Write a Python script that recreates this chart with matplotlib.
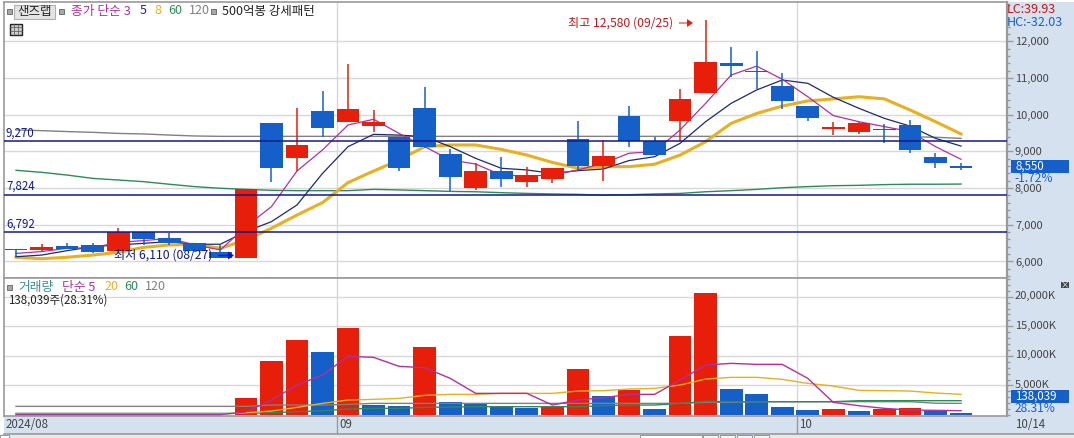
import matplotlib
matplotlib.use("Agg")
import matplotlib.pyplot as plt
from matplotlib.patches import Rectangle, FancyArrow
from matplotlib.ticker import MultipleLocator, FuncFormatter
from matplotlib.transforms import ScaledTranslation
import numpy as np

plt.rcParams['font.family'] = ['Noto Sans CJK KR', 'DejaVu Sans']

opens  = [6340,6320,6422,6450,6295,6795,6640,6495,6250,6105,9774,8820,10101,9801,9701,9392,10183,8929,8012,8466,8175,8257,9338,8593,9965,9275,9838,10601,11409,11191,10773,10237,9610,9538,9620,9720,8848,8603]
highs  = [6340,6470,6513,6513,6913,6795,6786,6495,6450,7966,9774,10183,10646,11382,10128,9392,10755,9066,8675,8848,8566,8548,9829,9311,10237,9393,10700,12580,11845,11736,11137,10237,9801,9801,9747,9856,8956,8675]
lows   = [6115,6295,6332,6223,6295,6450,6450,6268,6105,6105,8166,8466,9401,9801,9538,8466,9084,7912,7948,8039,8039,8148,8493,8194,9129,8911,9275,10601,11036,10700,10164,9838,9447,9474,9238,8956,8557,8493]
closes = [6305,6395,6350,6268,6795,6613,6504,6295,6105,7966,8557,9174,9647,10155,9801,8557,9129,8312,8466,8257,8348,8548,8611,8875,9275,8911,10428,11436,11336,11154,10382,9919,9665,9774,9593,9047,8693,8550]
up_flags = [0,1,0,0,1,0,0,0,0,1,0,1,0,1,1,0,0,0,1,0,1,1,0,1,0,0,1,1,0,0,0,0,1,1,0,0,0,0]

ma3 = [6220,6270,6360,6375,6520,6570,6630,6450,6315,6950,7495,8465,9040,9720,9875,9490,9130,8765,8655,8355,8330,8355,8495,8675,8950,8995,9585,10310,11080,11325,10965,10490,9975,9810,9675,9540,9130,8785]
ma5 = [6130,6175,6295,6405,6450,6495,6540,6470,6470,6815,7085,7540,8400,9130,9465,9445,9400,9130,8810,8540,8495,8400,8475,8520,8750,8855,9220,9810,10310,10675,10945,10855,10475,10175,9900,9690,9355,9145]
ma8 = [6115,6075,6115,6175,6250,6385,6450,6470,6360,6585,6905,7265,7605,8150,8465,8765,9130,9175,9175,9055,8900,8700,8540,8585,8585,8650,8900,9265,9765,10035,10235,10375,10430,10490,10430,10130,9810,9475]
ma60 = [8485,8430,8355,8265,8220,8175,8105,8040,7995,7965,7940,7930,7930,7930,7965,7950,7930,7910,7900,7875,7855,7840,7830,7805,7820,7840,7855,7900,7930,7965,8010,8040,8065,8075,8095,8105,8105,8110]
ma120 = [9585,9565,9540,9520,9490,9475,9445,9420,9410,9410,9410,9410,9410,9410,9410,9410,9410,9410,9410,9410,9410,9410,9410,9410,9410,9410,9410,9410,9410,9410,9410,9410,9410,9410,9410,9400,9385,9355]
levels = [9270, 7824, 6792]
level_labels = ['9,270', '7,824', '6,792']

volumes = [80,60,60,70,100,150,90,60,50,2873,9127,12676,10648,14704,1746,1521,11493,2197,1915,1408,1183,1408,7775,3155,4225,1014,13352,20620,4394,3549,1352,845,1014,676,1070,1183,732,340]
vol_up = [0,1,0,0,1,0,0,0,0,1,1,1,0,1,0,0,1,0,0,0,0,1,1,0,1,0,1,1,0,0,0,0,1,0,1,1,0,0]
vma5 = [80,80,80,80,80,80,80,80,80,507,2535,5070,6761,9916,9747,8226,8000,6197,3662,3662,3662,1690,2535,2930,3493,3493,5916,8451,8733,8564,8564,6197,2141,1577,1127,845,789,732]
vma20 = [170,170,170,170,170,170,170,170,170,395,675,1295,1970,2535,2650,2815,3325,3495,3495,3660,3660,3660,4055,4115,4395,4505,5070,6085,6365,6365,6030,5350,4900,4170,4115,4055,3720,3495]
vma60 = [280,280,280,280,280,280,280,280,280,280,395,565,730,1015,1125,1125,1295,1350,1410,1410,1410,1410,1410,1580,1690,1690,1970,2310,2255,2255,2255,2255,2255,2425,2425,2425,2425,2425]
vma120 = [1465,1465,1465,1465,1465,1465,1465,1465,1465,1465,1690,1690,1690,1800,1970,1970,1970,1970,1970,1970,1970,1970,1970,1970,1970,1970,1970,2140,2140,2255,2255,2255,2255,2255,2255,2255,2000,1970]

price_ticks = [6000,7000,8000,9000,10000,11000,12000]
vol_ticks = [5000,10000,15000,20000]
month_pos = [12.57, 30.58]
month_labels = ['09', '10']

RED = '#e61e0a'; BLUE = '#1560c8'; NAVY = '#101a8c'
MAG = '#b030a0'; DNAVY = '#1c2a6e'; GOLD = '#e8b020'; GREEN = '#2e8b57'; GRAY = '#808080'
GRID = '#d8d8d8'; PANEL = '#d6e1ef'; EDGE = '#9a9a9a'; TICKTXT = '#444444'

W, H = 1074, 438
fig = plt.figure(figsize=(W/100, H/100), dpi=100, facecolor='white')

def rect(x0, y0, x1, y1):
    return [x0/W, 1-y1/H, (x1-x0)/W, (y1-y0)/H]

bg = fig.add_axes([0,0,1,1], zorder=0); bg.set_xlim(0,W); bg.set_ylim(H,0); bg.axis('off')
bg.add_patch(Rectangle((1006,2),68,432,fc=PANEL,ec='none'))
bg.add_patch(Rectangle((3.5,416),1003,18,fc=PANEL,ec='none'))
bg.add_patch(Rectangle((0,434),W,4,fc='#ece9e0',ec='none'))
bg.add_patch(Rectangle((640,434.5),62,3.5,fc='white',ec='#888888',lw=0.6))
for bx in (703,720,737,754):
    bg.add_patch(Rectangle((bx,434.5),15,3.5,fc='#f4f4f4',ec='#888888',lw=0.6))
bg.add_patch(Rectangle((0,434.5),9,3.5,fc='white',ec='#888888',lw=0.6))
bg.plot([3.5,W],[434,434],color=EDGE,lw=1.2)

X0, X1 = 3.5, 1006.5
xlim = (-0.49, 38.78)
xs = np.arange(len(opens))

ax = fig.add_axes(rect(X0,2,X1,278), zorder=1, facecolor='white')
av = fig.add_axes(rect(X0,278,X1,415.7), zorder=1, facecolor='white')

for a in (ax, av):
    a.set_xlim(*xlim)
    for s in a.spines.values():
        s.set_color(EDGE); s.set_linewidth(1.2)
    a.spines['right'].set_linewidth(1.6)
    a.yaxis.tick_right()
    a.set_axisbelow(True)
    a.grid(axis='y', color=GRID, lw=1.0)
    for m in month_pos:
        a.axvline(m, color=GRID, lw=1.0, zorder=0.5)
    a.tick_params(axis='y', which='major', length=4.5, width=1, color=EDGE, pad=1.6, labelsize=8.0, labelcolor=TICKTXT)
    a.tick_params(axis='y', which='minor', length=2, width=1, color=EDGE)

# price pane
ax.set_ylim(5550, 13071)
ax.set_yticks(price_ticks)
ax.yaxis.set_minor_locator(MultipleLocator(200))
ax.yaxis.set_major_formatter(FuncFormatter(lambda v, p: f'{int(v):,}'))
ax.set_xticks([])
ax.plot(xs, ma120, color=GRAY, lw=1.0, zorder=2)
ax.plot(xs, ma60, color=GREEN, lw=1.0, zorder=2)
ax.plot(xs, ma8, color=GOLD, lw=2.2, zorder=2)
ax.plot(xs, ma5, color=DNAVY, lw=0.9, zorder=2.1)
ax.plot(xs, ma3, color=MAG, lw=0.9, zorder=2.1)

colors = [RED if u else BLUE for u in up_flags]
ax.vlines(xs, lows, highs, colors=colors, lw=1.1, zorder=3)
ax.bar(xs, [max(abs(o-c), 30) for o, c in zip(opens, closes)], bottom=[min(o, c) for o, c in zip(opens, closes)],
       width=0.89, color=colors, zorder=3.1, linewidth=0)
for lv, lb in zip(levels, level_labels):
    ax.axhline(lv, color=NAVY, lw=1.1, zorder=4)
    ax.annotate(lb, (2.5*0.72, lv), xycoords=('axes points', 'data'),
                xytext=(0, 1.5), textcoords='offset points', color=NAVY, fontsize=8.3, va='bottom', ha='left', zorder=5)

# volume pane
av.set_ylim(-113, 23156)
av.set_yticks(vol_ticks)
av.yaxis.set_minor_locator(MultipleLocator(1000))
av.yaxis.set_major_formatter(FuncFormatter(lambda v, p: f'{int(v):,}K'))
for lab in av.get_yticklabels():
    lab.set_transform(lab.get_transform() + ScaledTranslation(0, 1.2/72, fig.dpi_scale_trans))
vcolors = [RED if u else BLUE for u in vol_up]
av.bar(xs, volumes, width=0.89, color=vcolors, zorder=2, linewidth=0)
av.plot(xs, vma120, color=GRAY, lw=1.0, zorder=3)
av.plot(xs, vma60, color=GREEN, lw=1.0, zorder=3)
av.plot(xs, vma20, color=GOLD, lw=1.0, zorder=3)
av.plot(xs, vma5, color=MAG, lw=1.0, zorder=3)
av.set_xticks(month_pos, labels=month_labels)
av.tick_params(axis='x', length=13, width=1, color=EDGE, pad=-11.5, labelsize=8.3, labelcolor=TICKTXT)
for lab in av.get_xticklabels():
    lab.set_ha('left')
    lab.set_transform(lab.get_transform() + ScaledTranslation(1.5/72, 0, fig.dpi_scale_trans))

# overlay
ov = fig.add_axes([0,0,1,1], zorder=5); ov.set_xlim(0,W); ov.set_ylim(H,0); ov.axis('off'); ov.patch.set_alpha(0)
def T(x, y, s, c='#222222', fs=8.3, **k):
    ov.text(x, y, s, color=c, fontsize=fs, va='center', ha=k.pop('ha','left'), **k)
def sq(x, y, s=5):
    ov.add_patch(Rectangle((x-s/2,y-s/2),s,s,fc='#a8a8a8',ec='#707070',lw=0.7))

sq(9.5,11)
ov.add_patch(Rectangle((14,4.5),41,14,fc='#e4e4e4',ec='#b0b0b0',lw=0.8))
T(34.5,11,'샌즈랩',ha='center',fs=9)
sq(61.5,11)
T(71,11,'종가 단순 3',c=MAG,fs=9.2)
T(140,11,'5',c=DNAVY,fs=9)
T(154,11,'8',c=GOLD,fs=9)
T(168,11,'60',c=GREEN,fs=9)
T(189,11,'120',c=GRAY,fs=9)
sq(213,11)
T(222,11,'500억봉 강세패턴',fs=9)
ov.add_patch(Rectangle((9.5,23.5),12,11,fc='#cfcfcf',ec='#222222',lw=1))
for xx in (13.5,17.5):
    ov.plot([xx,xx],[23.5,34.5],color='#555555',lw=0.5)
for yy in (27,30.5):
    ov.plot([9.5,21.5],[yy,yy],color='#555555',lw=0.5)

T(568,23,'최고 12,580 (09/25)',c='#c01818',fs=8.75)
ov.add_patch(FancyArrow(679,23,14,0,width=1,head_width=8,head_length=6,length_includes_head=True,fc=RED,ec='none'))
T(114,255,'최저 6,110 (08/27)',c=NAVY,fs=8.75)
ov.add_patch(FancyArrow(218,255.5,16,0,width=1.5,head_width=8,head_length=6,length_includes_head=True,fc='#1010d8',ec='none'))

T(1007,9.5,'LC:39.93',c='#c01818',fs=9)
T(1007,22,'HC:-32.03',c=BLUE,fs=9)
ov.add_patch(Rectangle((1011,160),58,13,fc=BLUE,ec='none'))
T(1015,166.5,'8,550',c='white',fs=8.3)
ov.add_patch(Rectangle((1012,173),50,9.5,fc=PANEL,ec='none'))
T(1014,178,'-1.72%',c=BLUE,fs=8.6)

sq(9.5,287)
T(18,287,'거래량',c='#3a8f8f',fs=9.2)
T(62,287,'단순 5',c=MAG,fs=9.2)
T(104,287,'20',c=GOLD,fs=9)
T(124,287,'60',c=GREEN,fs=9)
T(145,287,'120',c=GRAY,fs=9)
T(8,300,'138,039주(28.31%)',fs=8.3)

ov.add_patch(Rectangle((1061,282),8,6,fc='#444444',ec='none'))
T(1065,285,'×',c='white',fs=6,ha='center')
ov.add_patch(Rectangle((1011,390),58,13,fc=BLUE,ec='none'))
T(1015,396.5,'138,039',c='white',fs=8.3)
ov.add_patch(Rectangle((1012,403),50,10,fc=PANEL,ec='none'))
T(1015,408,'28.31%',c=BLUE,fs=8.6)

T(5.5,424,'2024/08',c=TICKTXT,fs=8.3)
T(1015,424,'10/14',c=TICKTXT,fs=8.3)

fig.savefig('out.png', dpi=100, facecolor='white')
